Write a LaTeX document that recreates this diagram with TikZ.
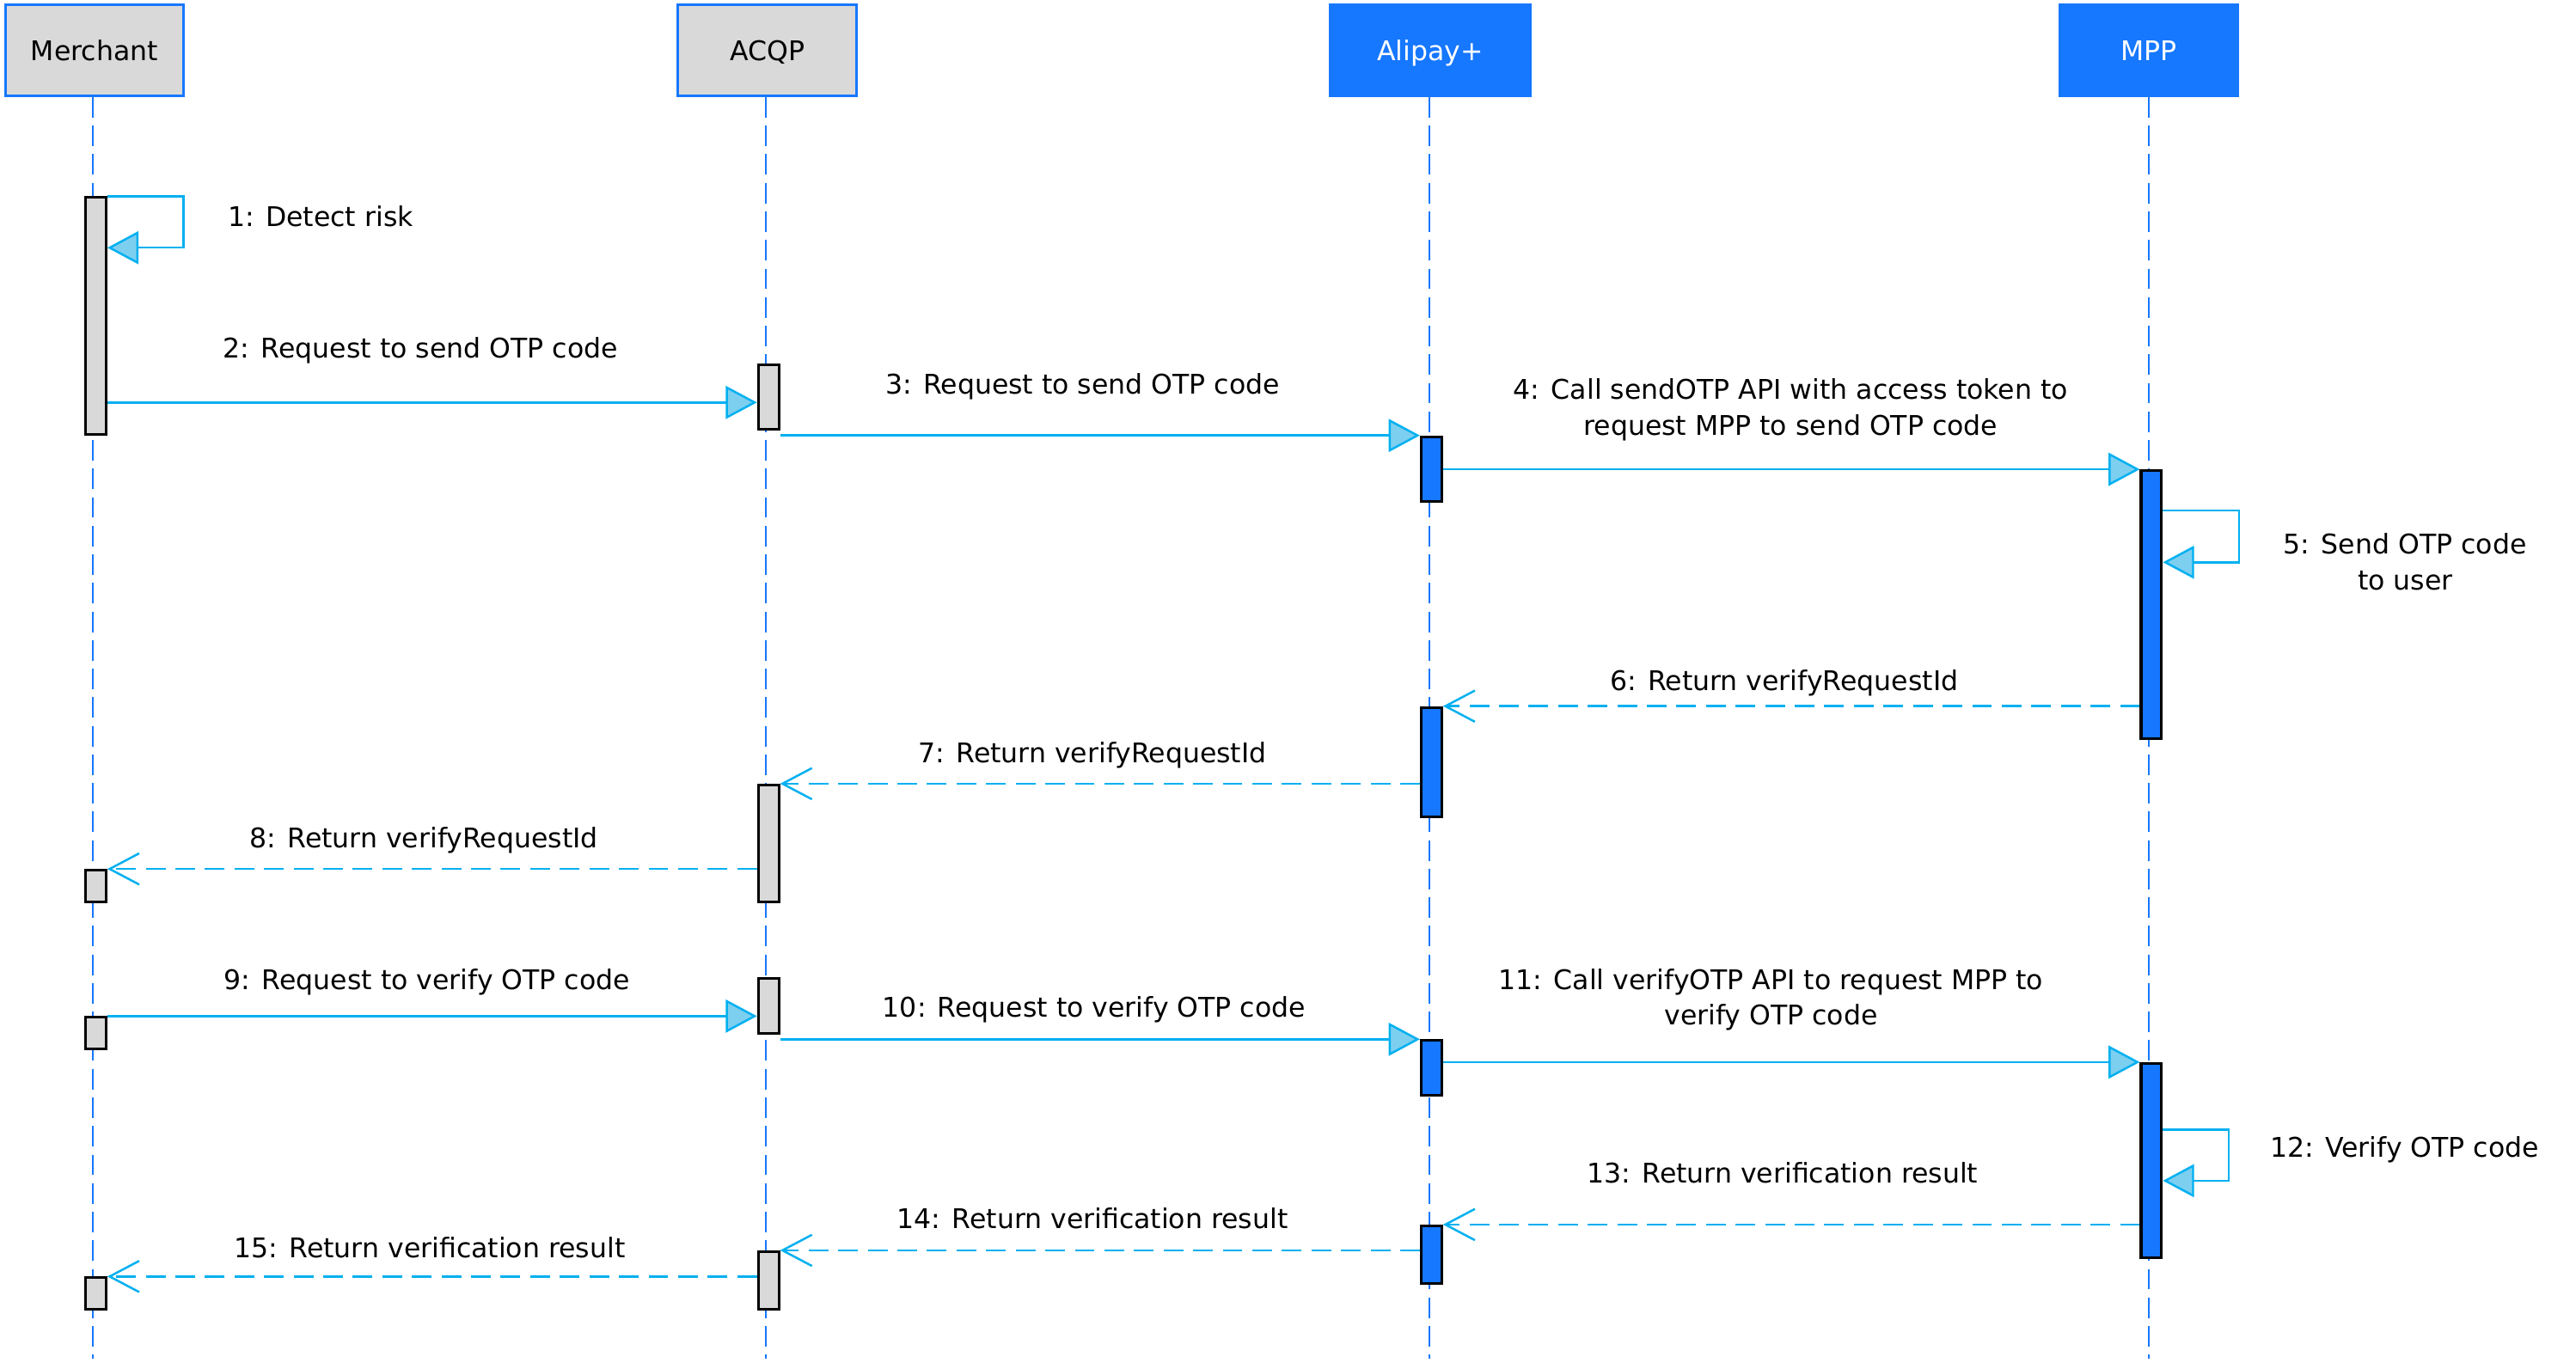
\documentclass[tikz,border=0pt]{standalone}
\usepackage{fontspec}
\setmainfont{DejaVu Sans}
\usetikzlibrary{arrows.meta}
\definecolor{hblue}{HTML}{1677FF}
\definecolor{mcyan}{HTML}{00B0F0}
\definecolor{afill}{HTML}{7DCFF0}
\definecolor{bgray}{HTML}{D9D9D9}
\begin{document}
\begin{tikzpicture}[x=1pt,y=-1pt,
  font=\fontsize{16.5}{22}\selectfont,
  hdr/.style={line width=1.5pt, minimum height=55.3pt, inner sep=0pt, text height=12pt, text depth=0pt},
  hdrg/.style={hdr, draw=hblue, fill=bgray, text=black},
  hdrb/.style={hdr, draw=hblue, fill=hblue, text=white},
  life/.style={draw=hblue, line width=1pt, dash pattern=on 12.5pt off 4.9pt},
  bar/.style={draw=black, line width=1.6pt, minimum width=12.5pt, inner sep=0pt, anchor=north},
  barg/.style={bar, fill=bgray},
  barb/.style={bar, fill=hblue},
  msg/.style={draw=mcyan, line width=1.3pt, -{Triangle[length=19pt,width=20pt,fill=afill]}},
  ret/.style={draw=mcyan, line width=1.3pt, dash pattern=on 12pt off 6pt, -{Straight Barb[length=18pt,width=19pt]}},
  lbl/.style={anchor=base, inner sep=0pt},
]
\useasboundingbox (0,0) rectangle (1568,833);
% headers
\node[hdrg, minimum width=108.5pt] (M) at (57.5,30.7) {Merchant};
\node[hdrg, minimum width=108.5pt] (Q) at (467,30.7) {ACQP};
\node[hdrb, minimum width=122pt] (A) at (870.5,30.7) {Alipay+};
\node[hdrb, minimum width=108.5pt] (P) at (1308,30.7) {MPP};
% lifelines
\coordinate (Mend) at (56.7,827);
\coordinate (Qend) at (466.3,827);
\coordinate (Aend) at (870,827);
\coordinate (Pend) at (1307.8,827);
\draw[life] (Mend |- M.south) -- (Mend);
\draw[life] (Qend |- Q.south) -- (Qend);
\draw[life] (Aend |- A.south) -- (Aend);
\draw[life] (Pend |- P.south) -- (Pend);
% activation bars
\node[barg, minimum height=144.2pt] (m1) at (58.3,119.5) {};
\node[barg, minimum height=19.1pt] (m2) at (58.3,529) {};
\node[barg, minimum height=19pt] (m3) at (58.3,618.6) {};
\node[barg, minimum height=19pt] (m4) at (58.3,777.1) {};
\node[barg, minimum height=39.6pt] (q1) at (467.8,221.1) {};
\node[barg, minimum height=71pt] (q2) at (467.8,477.1) {};
\node[barg, minimum height=33.4pt] (q3) at (467.8,594.8) {};
\node[barg, minimum height=34.9pt] (q4) at (467.8,761.2) {};
\node[barb, minimum height=39.6pt] (a1) at (871.3,265.1) {};
\node[barb, minimum height=66.6pt] (a2) at (871.3,429.9) {};
\node[barb, minimum height=33.1pt] (a3) at (871.3,632.7) {};
\node[barb, minimum height=34.9pt] (a4) at (871.3,745.5) {};
\node[barb, minimum height=163.4pt] (p1) at (1309.5,285.7) {};
\node[barb, minimum height=118.1pt] (p2) at (1309.5,646.6) {};
% messages
\draw[msg] (m1.north east) -| (111.8,150.8) -- (m1.east |- 0,150.8);
\node[lbl, anchor=base west] (l1) at (138.5,138) {1: Detect risk};
\draw[msg] (m1.east |- 0,245) -- (q1.west |- 0,245);
\node[lbl] (l2) at (256,218) {2: Request to send OTP code};
\draw[msg] (q1.east |- a1.north west) -- (a1.north west);
\node[lbl] (l3) at (659,240) {3: Request to send OTP code};
\draw[msg] (a1.east |- p1.north west) -- (p1.north west);
\node[lbl] (l4a) at (1090,243) {4: Call sendOTP API with access token to};
\node[lbl] (l4b) at (1090,265) {request MPP to send OTP code};
\draw[msg] (p1.east |- 0,310.8) -| (1362.9,342.3) -- (p1.east |- 0,342.3);
\node[lbl] (l5a) at (1464,337) {5: Send OTP code};
\node[lbl] (l5b) at (1464,359) {to user};
\draw[ret] (p1.west |- a2.north east) -- (a2.north east);
\node[lbl] (l6) at (1086,420.3) {6: Return verifyRequestId};
\draw[ret] (a2.west |- q2.north east) -- (q2.north east);
\node[lbl] (l7) at (665,464.4) {7: Return verifyRequestId};
\draw[ret] (q2.west |- m2.north east) -- (m2.north east);
\node[lbl] (l8) at (258,516.2) {8: Return verifyRequestId};
\draw[msg] (m3.north east) -- (q3.west |- m3.north east);
\node[lbl] (l9) at (260,602.2) {9: Request to verify OTP code};
\draw[msg] (q3.east |- a3.north west) -- (a3.north west);
\node[lbl] (l10) at (666,619.4) {10: Request to verify OTP code};
\draw[msg] (a3.east |- p2.north west) -- (p2.north west);
\node[lbl] (l11a) at (1078,602.5) {11: Call verifyOTP API to request MPP to};
\node[lbl] (l11b) at (1078,624) {verify OTP code};
\draw[msg] (p2.east |- 0,687.6) -| (1356.6,718.8) -- (p2.east |- 0,718.8);
\node[lbl, anchor=base west] (l12) at (1381.6,704.6) {12: Verify OTP code};
\draw[ret] (p2.west |- a4.north east) -- (a4.north east);
\node[lbl] (l13) at (1085,719.9) {13: Return verification result};
\draw[ret] (a4.west |- q4.north east) -- (q4.north east);
\node[lbl] (l14) at (665,748.1) {14: Return verification result};
\draw[ret] (q4.west |- m4.north east) -- (m4.north east);
\node[lbl] (l15) at (261.6,765.6) {15: Return verification result};
\end{tikzpicture}
\end{document}
